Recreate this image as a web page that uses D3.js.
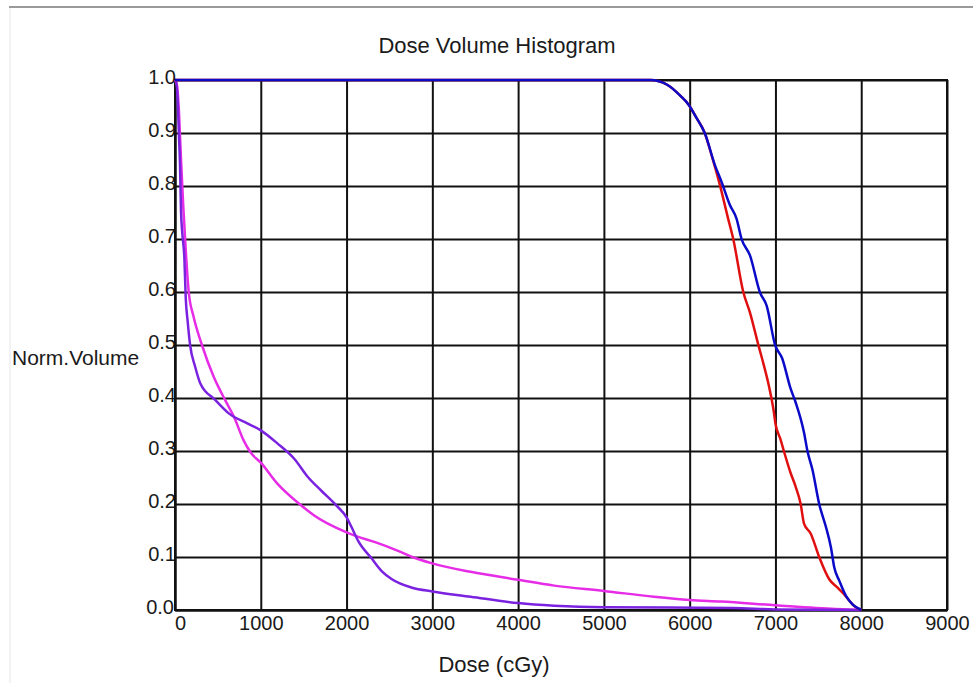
<!DOCTYPE html>
<html lang="en">
<head>
  <meta charset="UTF-8">
  <title>Dose Volume Histogram</title>
  <script src="https://d3js.org/d3.v7.min.js"></script>
  <style>
    body,
    html {
      margin: 0;
      padding: 0;
      background: #fff;
      overflow: hidden;
    }

    svg {
      display: block;
      font-family: "Liberation Sans", Arial, sans-serif;
    }

    .grid line {
      stroke: #111;
      stroke-width: 2px;
    }

    .grid path {
      stroke: #111;
      stroke-width: 2px;
    }

    .grid text {
      font-size: 20px;
      fill: #1a1a1a;
    }

    .curve {
      fill: none;
      stroke-width: 2.5px;
      stroke-linejoin: round;
    }
  </style>
</head>
<body>
  <svg id="chart"></svg>

  <script>
    // tick values
    const xTicks = [0, 1000, 2000, 3000, 4000, 5000, 6000, 7000, 8000, 9000];
    const yTicks = [0, 0.1, 0.2, 0.3, 0.4, 0.5, 0.6, 0.7, 0.8, 0.9, 1.0];

    // magenta structure
    const magentaDose = [0, 23, 47, 70, 97, 125, 160, 214, 314, 451, 588, 686, 800, 882, 1000, 1196, 1451, 1627, 1980, 2137, 2333, 2608, 2765, 3000, 3447, 4000, 4420, 5000, 5584, 6000, 6362, 7000, 7700, 8000];
    const magentaVol = [1.0, 0.99, 0.937, 0.85, 0.76, 0.68, 0.6, 0.555, 0.5, 0.44, 0.395, 0.365, 0.32, 0.297, 0.278, 0.238, 0.2, 0.178, 0.148, 0.138, 0.128, 0.111, 0.1, 0.088, 0.072, 0.057, 0.046, 0.036, 0.025, 0.019, 0.016, 0.009, 0.002, 0.0];

    // purple structure
    const purpleDose = [0, 12, 31, 47, 58, 70, 86, 109, 125, 148, 176, 235, 294, 471, 627, 843, 1000, 1196, 1392, 1549, 1706, 1882, 2000, 2059, 2137, 2294, 2412, 2529, 2765, 3000, 3447, 4000, 4420, 5000, 6500, 7000, 8000];
    const purpleVol = [1.0, 1.0, 0.962, 0.892, 0.842, 0.753, 0.709, 0.665, 0.589, 0.544, 0.5, 0.459, 0.428, 0.396, 0.371, 0.352, 0.339, 0.314, 0.285, 0.251, 0.225, 0.197, 0.175, 0.156, 0.13, 0.097, 0.073, 0.058, 0.042, 0.035, 0.025, 0.013, 0.008, 0.005, 0.004, 0.001, 0.0];

    // red structure
    const redDose = [0, 5544, 5738, 5893, 5990, 6078, 6176, 6254, 6352, 6449, 6508, 6625, 6703, 6801, 6843, 6922, 6980, 7000, 7059, 7098, 7176, 7235, 7294, 7333, 7412, 7510, 7627, 7725, 7804, 7922, 8000];
    const redVol = [1.0, 1.0, 0.991, 0.97, 0.953, 0.929, 0.9, 0.859, 0.802, 0.738, 0.7, 0.6, 0.561, 0.5, 0.475, 0.424, 0.375, 0.352, 0.322, 0.3, 0.259, 0.233, 0.2, 0.163, 0.144, 0.1, 0.058, 0.042, 0.029, 0.007, 0.0];

    // blue structure
    const blueDose = [0, 5544, 5738, 5893, 5990, 6078, 6176, 6293, 6371, 6469, 6547, 6605, 6703, 6820, 6898, 6996, 7078, 7176, 7235, 7333, 7373, 7431, 7510, 7588, 7647, 7686, 7745, 7824, 7902, 8000];
    const blueVol = [1.0, 1.0, 0.991, 0.97, 0.953, 0.929, 0.9, 0.84, 0.808, 0.764, 0.738, 0.7, 0.669, 0.599, 0.574, 0.5, 0.475, 0.418, 0.392, 0.335, 0.3, 0.265, 0.2, 0.157, 0.118, 0.08, 0.055, 0.026, 0.01, 0.0];

    const series = [
      { dose: magentaDose, vol: magentaVol, color: "#e62ce6" },
      { dose: purpleDose, vol: purpleVol, color: "#7a22e0" },
      { dose: redDose, vol: redVol, color: "#e01010" },
      { dose: blueDose, vol: blueVol, color: "#0a0ac8" },
    ];

    const width = 973;
    const height = 683;
    const plotLeft = 175, plotRight = 947, plotTop = 80, plotBottom = 610;

    const svg = d3.select("#chart")
      .attr("width", width)
      .attr("height", height);

    // window frame lines
    svg.append("line")
      .attr("x1", 9).attr("x2", width)
      .attr("y1", 7).attr("y2", 7)
      .attr("stroke", "#9a9a9a")
      .attr("stroke-width", 2);
    svg.append("line")
      .attr("x1", 10).attr("x2", 10)
      .attr("y1", 8).attr("y2", height)
      .attr("stroke", "#e6e6e6")
      .attr("stroke-width", 1);

    const x = d3.scaleLinear().domain([0, 9000]).range([plotLeft, plotRight]);
    const y = d3.scaleLinear().domain([0, 1]).range([plotBottom, plotTop]);

    // x axis + vertical grid
    const xAxis = svg.append("g")
      .attr("class", "grid")
      .attr("transform", `translate(0,${plotBottom})`)
      .call(d3.axisBottom(x)
        .tickValues(xTicks)
        .tickFormat(d3.format("d"))
        .tickSize(-(plotBottom - plotTop))
        .tickSizeOuter(0));
    xAxis.selectAll("text")
      .attr("dy", null)
      .attr("y", 20)
      .attr("x", d => (d === 0 ? 5 : 0));

    // y axis + horizontal grid
    const yAxis = svg.append("g")
      .attr("class", "grid")
      .attr("transform", `translate(${plotLeft},0)`)
      .call(d3.axisLeft(y)
        .tickValues(yTicks)
        .tickFormat(d3.format(".1f"))
        .tickSize(-(plotRight - plotLeft))
        .tickSizeOuter(0));
    yAxis.selectAll("text")
      .attr("dy", null)
      .attr("x", d => (d === 0 ? -1 : 1))
      .attr("y", 3)
      .attr("text-anchor", "end");

    // plot frame
    svg.append("rect")
      .attr("x", plotLeft).attr("y", plotTop)
      .attr("width", plotRight - plotLeft).attr("height", plotBottom - plotTop)
      .attr("fill", "none")
      .attr("stroke", "#111")
      .attr("stroke-width", 2);

    // curves
    const line = d3.line()
      .x(d => x(d[0]))
      .y(d => y(d[1]))
      .curve(d3.curveMonotoneX);

    series.forEach(s => {
      svg.append("path")
        .attr("class", "curve")
        .attr("stroke", s.color)
        .attr("d", line(d3.zip(s.dose, s.vol)));
    });

    // labels
    svg.append("text")
      .attr("x", 497).attr("y", 53)
      .attr("text-anchor", "middle")
      .attr("font-size", 22)
      .attr("fill", "#1a1a1a")
      .text("Dose Volume Histogram");

    svg.append("text")
      .attr("x", 12).attr("y", 365)
      .attr("font-size", 21)
      .attr("fill", "#1a1a1a")
      .text("Norm.Volume");

    svg.append("text")
      .attr("x", 494).attr("y", 672)
      .attr("text-anchor", "middle")
      .attr("font-size", 22)
      .attr("fill", "#1a1a1a")
      .text("Dose (cGy)");
  </script>
</body>
</html>
